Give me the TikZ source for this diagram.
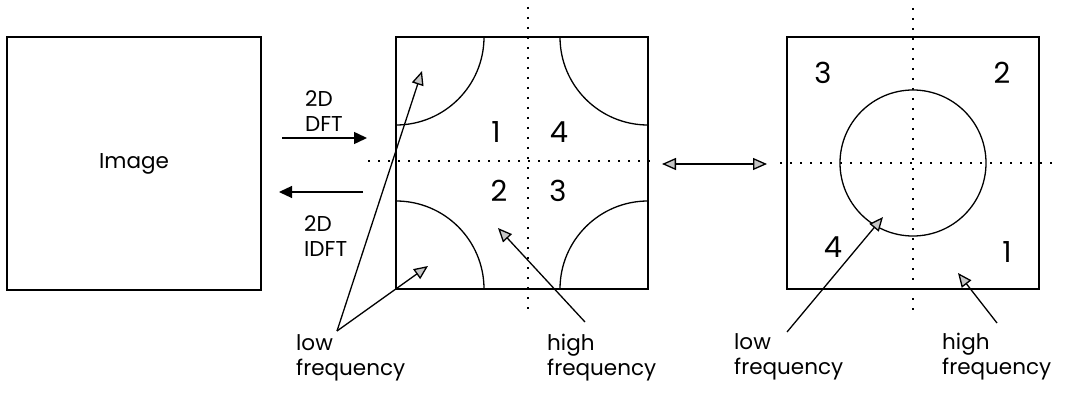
\documentclass[tikz,border=0pt]{standalone}
\usepackage{fontspec}
\setmainfont{Poppins}
\usetikzlibrary{arrows.meta}

\begin{document}
\begin{tikzpicture}[x=1pt,y=-1pt,
  panel/.style={draw, line width=1.5pt},
  dots/.style={line width=1.5pt, dash pattern=on 2pt off 8pt},
  lbl/.style={font=\fontsize{21.5}{25}\selectfont, align=left, inner sep=0pt},
  num/.style={font=\fontsize{29}{32}\selectfont, inner sep=0pt},
  hollow/.style={line width=1.3pt, -{Triangle[length=14pt,width=12pt,fill=gray!45]}},
  bothhollow/.style={line width=1.3pt, {Triangle[length=14pt,width=12pt,fill=gray!45]}-{Triangle[length=14pt,width=12pt,fill=gray!45]}},
  solidtip/.style={line width=1.5pt, -{Triangle[length=13pt,width=12pt]}}]
  \useasboundingbox (0,0) rectangle (1065,393);

  % Image box
  \node[panel, minimum width=254pt, minimum height=253pt, font=\fontsize{21.5}{25}\selectfont]
    (img) at (134,163.5) {Image};

  % DFT / IDFT arrows
  \coordinate (dftA) at (282,138);
  \coordinate (dftB) at (367,138);
  \coordinate (idftA) at (363,192);
  \coordinate (idftB) at (279,192);
  \draw[solidtip] (dftA) -- (dftB);
  \draw[solidtip, line width=1.2pt] (idftA) -- (idftB);
  \node[lbl, anchor=west] (dft) at (305,111) {2D\\DFT};
  \node[lbl, anchor=west] (idft) at (304,236) {2D\\IDFT};

  % Spectrum (unshifted)
  \draw[panel] (396,37) rectangle (648,289);
  \begin{scope}
    \clip (396,37) rectangle (648,289);
    \foreach \cx/\cy in {396/37, 648/37, 396/289, 648/289}
      \draw[line width=1.3pt] (\cx,\cy) circle[radius=88];
  \end{scope}
  \draw[dots] (528,7) -- (528,310);
  \draw[dots] (368,161) -- (657,161);
  \node[num] (q1) at (496,132) {1};
  \node[num] (q4) at (559,132) {4};
  \node[num] (q2) at (499,191) {2};
  \node[num] (q3) at (558,191) {3};

  % Swap of quadrants
  \coordinate (swA) at (662,164);
  \coordinate (swB) at (767,164);
  \draw[bothhollow] (swA) -- (swB);

  % Spectrum (centred)
  \draw[panel] (787,37) rectangle (1039,289);
  \draw[line width=1.3pt] (913,163) circle[radius=73];
  \draw[dots] (913,8) -- (913,313);
  \draw[dots] (780,163) -- (1057,163);
  \node[num] (r3) at (823,73) {3};
  \node[num] (r2) at (1002,73) {2};
  \node[num] (r4) at (833,247) {4};
  \node[num] (r1) at (1007,252) {1};

  % --- Labels and pointers ---
  \node[lbl, anchor=west] (lowL) at (296,358) {low\\frequency};
  \coordinate (lowApex) at (337,331);
  \coordinate (tipTL) at (422,71);
  \coordinate (tipBL) at (428,266);
  \draw[hollow] (lowApex) -- (tipTL);
  \draw[hollow] (lowApex) -- (tipBL);

  \node[lbl, anchor=west] (highM) at (547,358) {high\\frequency};
  \coordinate (highMs) at (585,322);
  \coordinate (tipM) at (498,228);
  \draw[hollow] (highMs) -- (tipM);

  \node[lbl, anchor=west] (lowR) at (734,357) {low\\frequency};
  \coordinate (lowRs) at (787,332);
  \coordinate (tipC) at (883,217);
  \draw[hollow] (lowRs) -- (tipC);

  \node[lbl, anchor=west] (highR) at (942,357) {high\\frequency};
  \coordinate (highRs) at (997,323);
  \coordinate (tipR) at (958,273);
  \draw[hollow] (highRs) -- (tipR);
\end{tikzpicture}
\end{document}
